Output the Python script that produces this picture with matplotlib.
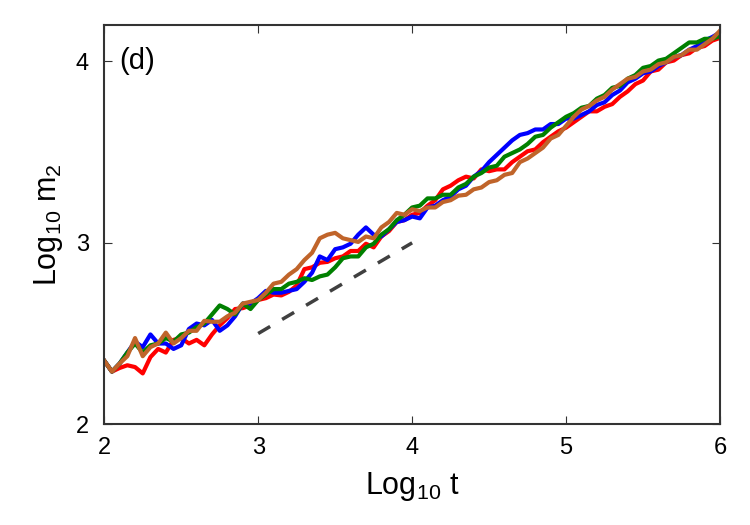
import numpy as np
import matplotlib
matplotlib.use('Agg')
import matplotlib.pyplot as plt

plt.rcParams['font.family'] = ['Liberation Sans', 'DejaVu Sans']
plt.rcParams['mathtext.fontset'] = 'custom'
plt.rcParams['mathtext.rm'] = 'Liberation Sans'
plt.rcParams['mathtext.it'] = 'Liberation Sans:italic'
plt.rcParams['mathtext.default'] = 'regular'

# log10 t sampled every 0.05
log_t = np.round(np.arange(2.0, 6.0001, 0.05), 2)

red = [2.35, 2.29, 2.31, 2.325, 2.315, 2.28, 2.37, 2.415, 2.395, 2.465,
       2.475, 2.445, 2.465, 2.435, 2.495, 2.545, 2.585, 2.635, 2.64, 2.655,
       2.685, 2.695, 2.715, 2.71, 2.73, 2.765, 2.855, 2.865, 2.89, 2.895,
       2.915, 2.925, 2.955, 2.955, 2.995, 2.975, 3.035, 3.065, 3.115, 3.125,
       3.155, 3.165, 3.205, 3.235, 3.295, 3.315, 3.345, 3.365, 3.355, 3.405,
       3.395, 3.405, 3.405, 3.445, 3.475, 3.505, 3.515, 3.555, 3.585, 3.615,
       3.635, 3.665, 3.695, 3.725, 3.725, 3.75, 3.765, 3.805, 3.835, 3.875,
       3.895, 3.945, 3.955, 3.995, 4.005, 4.035, 4.045, 4.075, 4.085, 4.115, 4.13]

blue = [2.35, 2.29, 2.335, 2.395, 2.455, 2.425, 2.495, 2.445, 2.445, 2.415,
        2.435, 2.525, 2.555, 2.545, 2.575, 2.515, 2.545, 2.595, 2.665, 2.665,
        2.695, 2.735, 2.725, 2.725, 2.735, 2.745, 2.785, 2.835, 2.925, 2.905,
        2.965, 2.975, 2.995, 3.045, 3.085, 3.045, 3.035, 3.075, 3.115, 3.125,
        3.145, 3.135, 3.195, 3.205, 3.235, 3.255, 3.295, 3.315, 3.365, 3.395,
        3.445, 3.485, 3.525, 3.565, 3.595, 3.605, 3.625, 3.625, 3.655, 3.655,
        3.685, 3.685, 3.705, 3.725, 3.76, 3.775, 3.815, 3.84, 3.885, 3.905,
        3.935, 3.945, 3.975, 3.995, 4.025, 4.035, 4.065, 4.085, 4.115, 4.135, 4.16]

green = [2.35, 2.29, 2.335, 2.395, 2.445, 2.395, 2.435, 2.445, 2.475, 2.455,
         2.495, 2.505, 2.535, 2.555, 2.605, 2.655, 2.635, 2.605, 2.665, 2.635,
         2.685, 2.715, 2.745, 2.745, 2.775, 2.785, 2.805, 2.795, 2.815, 2.825,
         2.865, 2.915, 2.925, 2.925, 2.975, 2.995, 3.045, 3.075, 3.125, 3.155,
         3.195, 3.205, 3.245, 3.245, 3.265, 3.265, 3.305, 3.325, 3.365, 3.385,
         3.415, 3.425, 3.475, 3.495, 3.515, 3.545, 3.585, 3.595, 3.635, 3.665,
         3.695, 3.715, 3.745, 3.755, 3.795, 3.815, 3.855, 3.865, 3.905, 3.925,
         3.965, 3.975, 4.005, 4.015, 4.045, 4.075, 4.105, 4.105, 4.125, 4.125, 4.14]

brown = [2.35, 2.29, 2.335, 2.375, 2.475, 2.375, 2.425, 2.445, 2.505, 2.445,
         2.475, 2.515, 2.515, 2.57, 2.565, 2.565, 2.595, 2.615, 2.665, 2.675,
         2.685, 2.725, 2.775, 2.785, 2.825, 2.855, 2.905, 2.945, 3.025, 3.045,
         3.055, 3.025, 3.015, 3.005, 3.035, 3.025, 3.085, 3.115, 3.165, 3.155,
         3.185, 3.175, 3.195, 3.195, 3.225, 3.235, 3.26, 3.265, 3.295, 3.305,
         3.335, 3.345, 3.375, 3.385, 3.445, 3.465, 3.495, 3.525, 3.575, 3.595,
         3.645, 3.695, 3.735, 3.755, 3.785, 3.805, 3.845, 3.875, 3.905, 3.915,
         3.945, 3.955, 3.985, 3.995, 4.025, 4.035, 4.065, 4.065, 4.095, 4.125, 4.17]

# slope 1/2 guide
guide_t = [3.0, 4.0]
guide_m = [2.5, 3.0]

fig = plt.figure(figsize=(7.5, 5.25), dpi=100)
ax = fig.add_axes([0.139, 0.192, 0.821, 0.76])

ax.plot(log_t, red, color='#ff0000', lw=3.0)
ax.plot(log_t, blue, color='#0000ff', lw=3.0)
ax.plot(log_t, green, color='#008000', lw=3.0)
ax.plot(log_t, brown, color='#c0642a', lw=3.0)
ax.plot(guide_t, guide_m, color='#404040', lw=2.5, ls=(0, (4, 4)))

ax.set_xlim(2, 6)
ax.set_ylim(2, 4.2)
ax.set_xticks([2, 3, 4, 5, 6])
ax.set_yticks([2, 3, 4])
ax.tick_params(direction='in', length=6, width=0.8, labelsize=17,
               top=True, right=True, colors='#333333', labelcolor='black')
ax.tick_params(axis='x', pad=9)
ax.tick_params(axis='y', pad=11)
for s in ax.spines.values():
    s.set_color('#333333')
    s.set_linewidth(1.5)

ax.set_xlabel(r'Log$_{10}$ t', fontsize=22, labelpad=8)
ax.set_ylabel(r'Log$_{10}$ m$_2$', fontsize=22, labelpad=8)
ax.text(2.1, 4.0, '(d)', fontsize=21, va='center', ha='left')

fig.savefig('out.png', dpi=100)
